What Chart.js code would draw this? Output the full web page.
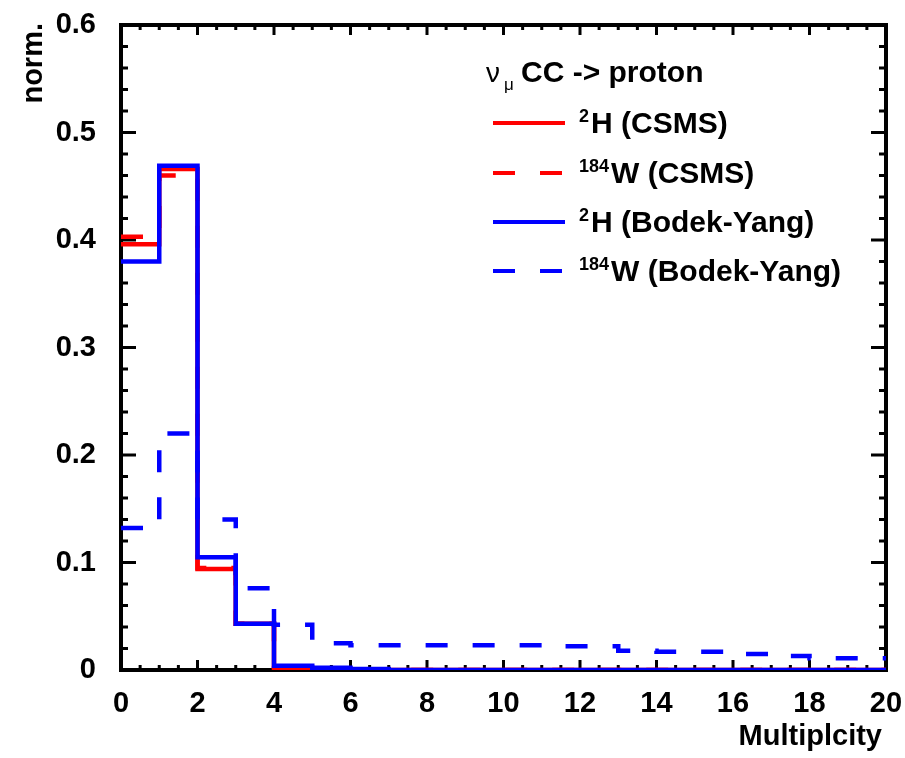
<!DOCTYPE html>
<html>
<head>
<meta charset="utf-8">
<script src="https://cdn.jsdelivr.net/npm/chart.js@4.4.1/dist/chart.umd.min.js"></script>
<style>
  html, body { margin: 0; padding: 0; background: #fff; }
  canvas { display: block; }
</style>
</head>
<body>
<canvas id="chartCanvas" width="905" height="758"></canvas>
<script>
// bin edges 0..20, one value per bin (multiplicity)
const binEdges = [0, 1, 2, 3, 4, 5, 6, 7, 8, 9, 10, 11, 12, 13, 14, 15, 16, 17, 18, 19, 20];
const h2Csms   = [0.396, 0.466, 0.094, 0.043, 0.002, 0.001, 0, 0, 0, 0, 0, 0, 0, 0, 0, 0, 0, 0, 0, 0];
const w184Csms = [0.403, 0.460, 0.095, 0.043, 0.003, 0.001, 0, 0, 0, 0, 0, 0, 0, 0, 0, 0, 0, 0, 0, 0];
const h2By     = [0.380, 0.469, 0.105, 0.043, 0.004, 0.002, 0.001, 0, 0, 0, 0, 0, 0, 0, 0, 0, 0, 0, 0, 0];
const w184By   = [0.132, 0.220, 0.140, 0.076, 0.042, 0.025, 0.023, 0.023, 0.023, 0.023, 0.023, 0.022, 0.022,
                  0.018, 0.017, 0.017, 0.015, 0.013, 0.011, 0.011];
const xTicks = [0, 2, 4, 6, 8, 10, 12, 14, 16, 18, 20];
const yTicks = [0, 0.1, 0.2, 0.3, 0.4, 0.5, 0.6];

const legendTitle = "CC -> proton";
const seriesLabels = [
    { sup: "2",   text: "H (CSMS)" },
    { sup: "184", text: "W (CSMS)" },
    { sup: "2",   text: "H (Bodek-Yang)" },
    { sup: "184", text: "W (Bodek-Yang)" }
];

const RED = "#ff0000";
const BLUE = "#0000ff";
const DASH = [22, 25];
const FONT = "'Liberation Sans', Arial, Helvetica, sans-serif";

// histogram -> step points (last edge repeats last bin)
function toSteps(vals) {
    const pts = vals.map((v, i) => ({ x: binEdges[i], y: v }));
    pts.push({ x: binEdges[binEdges.length - 1], y: vals[vals.length - 1] });
    return pts;
}

function ds(label, vals, color, dashed, order) {
    return {
        label: label,
        data: toSteps(vals),
        borderColor: color,
        borderWidth: 4.5,
        borderDash: dashed ? DASH : [],
        stepped: true,
        pointRadius: 0,
        fill: false,
        order: order
    };
}

// frame + inward ticks on all four sides (ROOT style)
const framePlugin = {
    id: "frame",
    beforeDatasetsDraw(chart) {
        const ctx = chart.ctx;
        const a = chart.chartArea;
        const xs = chart.scales.x, ys = chart.scales.y;
        ctx.save();
        ctx.strokeStyle = "#000";
        ctx.lineWidth = 3;
        for (let v = 0; v <= 20.001; v += 0.5) {
            const px = xs.getPixelForValue(v);
            const len = Math.abs(v % 2) < 0.01 ? 10 : 5;
            ctx.beginPath();
            ctx.moveTo(px, a.bottom); ctx.lineTo(px, a.bottom - len);
            ctx.moveTo(px, a.top); ctx.lineTo(px, a.top + len);
            ctx.stroke();
        }
        for (let i = 0; i <= 30; i++) {
            const v = i * 0.02;
            const py = ys.getPixelForValue(v);
            const len = i % 5 === 0 ? 15 : 7;
            ctx.beginPath();
            ctx.moveTo(a.left, py); ctx.lineTo(a.left + len, py);
            ctx.moveTo(a.right, py); ctx.lineTo(a.right - len, py);
            ctx.stroke();
        }
        ctx.lineWidth = 4;
        ctx.strokeRect(a.left, a.top, a.right - a.left, a.bottom - a.top);
        ctx.restore();
    },
    afterDraw(chart) {
        const ctx = chart.ctx;
        const a = chart.chartArea;
        ctx.save();
        ctx.fillStyle = "#000";
        // axis titles
        ctx.font = "bold 29px " + FONT;
        ctx.textAlign = "right";
        ctx.textBaseline = "alphabetic";
        ctx.fillText("Multiplcity", a.right - 4, 745);
        ctx.translate(42, a.top - 2);
        ctx.rotate(-Math.PI / 2);
        ctx.textAlign = "right";
        ctx.fillText("norm.", 0, 0);
        ctx.restore();

        // legend
        ctx.save();
        ctx.fillStyle = "#000";
        ctx.textAlign = "left";
        ctx.textBaseline = "alphabetic";
        ctx.font = "28px " + FONT;
        ctx.fillText("\u03bd", 486, 82);
        ctx.font = "17px " + FONT;
        ctx.fillText("\u03bc", 504, 90);
        ctx.font = "bold 30px " + FONT;
        ctx.fillText(legendTitle, 521, 82);

        const rows = [123, 173, 222, 271];
        chart.data.datasets.forEach((d, i) => {
            const y = rows[i];
            ctx.strokeStyle = d.borderColor;
            ctx.lineWidth = 4;
            ctx.setLineDash(d.borderDash);
            ctx.beginPath();
            ctx.moveTo(493, y); ctx.lineTo(565, y);
            ctx.stroke();
            ctx.setLineDash([]);
            const lab = seriesLabels[i];
            ctx.font = "bold 18px " + FONT;
            ctx.fillText(lab.sup, 579, y - 1);
            const w = ctx.measureText(lab.sup).width;
            ctx.font = "bold 30px " + FONT;
            ctx.fillText(lab.text, 580 + w + 1, y + 10);
        });
        ctx.restore();
    }
};

const ctx = document.getElementById("chartCanvas").getContext("2d");
new Chart(ctx, {
    type: "line",
    data: {
        datasets: [
            ds(seriesLabels[0].sup + seriesLabels[0].text, h2Csms, RED, false, 4),
            ds(seriesLabels[1].sup + seriesLabels[1].text, w184Csms, RED, true, 3),
            ds(seriesLabels[2].sup + seriesLabels[2].text, h2By, BLUE, false, 2),
            ds(seriesLabels[3].sup + seriesLabels[3].text, w184By, BLUE, true, 1)
        ]
    },
    options: {
        responsive: false,
        animation: false,
        layout: { padding: { left: 0, right: 19, top: 25, bottom: 0 } },
        plugins: { legend: { display: false }, tooltip: { enabled: false } },
        scales: {
            x: {
                type: "linear",
                min: 0, max: 20,
                afterBuildTicks: (s) => { s.ticks = xTicks.map(v => ({ value: v })); },
                afterFit: (s) => { s.height = 88; s.paddingLeft = 0; s.paddingRight = 0; },
                grid: { display: false, drawTicks: false },
                border: { display: false },
                ticks: { color: "#000", padding: 17, maxRotation: 0, font: { family: FONT, size: 29, weight: "bold" } }
            },
            y: {
                min: 0, max: 0.6,
                afterBuildTicks: (s) => { s.ticks = yTicks.map(v => ({ value: v })); },
                afterFit: (s) => { s.width = 121; s.paddingTop = 0; s.paddingBottom = 0; },
                grid: { display: false, drawTicks: false },
                border: { display: false },
                ticks: {
                    color: "#000", padding: 25,
                    font: { family: FONT, size: 29, weight: "bold" },
                    callback: (v) => v === 0 ? "0" : v.toFixed(1)
                }
            }
        }
    },
    plugins: [framePlugin]
});
</script>
</body>
</html>
